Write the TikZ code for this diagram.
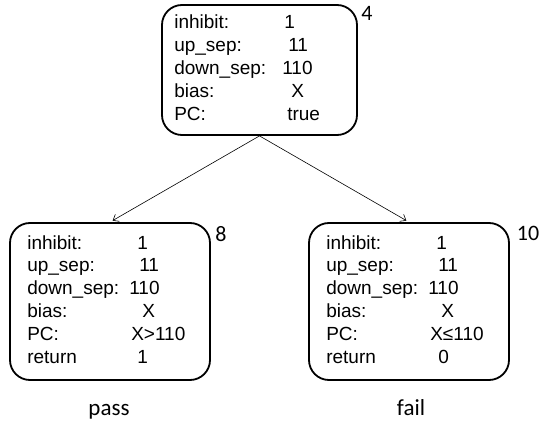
\documentclass[tikz,border=0pt]{standalone}
\usepackage{fontspec}
\usepackage{array}
\setmainfont{Liberation Sans}
\newfontfamily\calib{Carlito}
\usetikzlibrary{positioning, arrows.meta}

\tikzset{
	nodebox/.style = {draw = black, line width = 1.8pt, rounded corners = 20pt, inner sep = 0pt},
	vartab/.style = {inner sep = 0pt, anchor = west, font = \fontsize{19}{22.8}\selectfont},
	numlabel/.style = {inner sep = 0pt, font = \calib\fontsize{22}{24}\selectfont},
	result/.style = {inner sep = 0pt, anchor = base, font = \calib\fontsize{23}{26}\selectfont}
}

\begin{document}
\begin{tikzpicture}[x = 1pt, y = 1pt]
		\useasboundingbox (0, 0) rectangle (539, 426);
		% states
		\node[nodebox, minimum width = 195pt, minimum height = 130pt] (s4) at (259.5, 356) {};
		\node[nodebox, minimum width = 200pt, minimum height = 157pt] (s8) at (110, 124.5) {};
		\node[nodebox, minimum width = 200pt, minimum height = 157pt] (s10) at (409, 124.5) {};
		\node[vartab] (t4) at ([xshift = 13pt]s4.west) {%
			\begin{tabular}{@{}p{108pt}@{}l@{}}
			inhibit: & \hspace{2pt}1 \\
			up\_sep: & \hspace{6pt}11 \\
			down\_sep: & 110 \\
			bias: & \hspace{9pt}X \\
			PC: & \hspace{5pt}true
			\end{tabular}};
		\node[vartab] (t8) at ([xshift = 18pt]s8.west) {%
			\begin{tabular}{@{}p{102pt}@{}l@{}}
			inhibit: & \hspace{8pt}1 \\
			up\_sep: & \hspace{10pt}11 \\
			down\_sep: & 110 \\
			bias: & \hspace{13pt}X \\
			PC: & \hspace{2pt}X>110 \\
			return & \hspace{8pt}1
			\end{tabular}};
		\node[vartab] (t10) at ([xshift = 18pt]s10.west) {%
			\begin{tabular}{@{}p{102pt}@{}l@{}}
			inhibit: & \hspace{8pt}1 \\
			up\_sep: & \hspace{10pt}11 \\
			down\_sep: & 110 \\
			bias: & \hspace{13pt}X \\
			PC: & \hspace{2pt}X≤110 \\
			return & \hspace{10pt}0
			\end{tabular}};
		% numbers and outcomes
		\node[numlabel] (n4) at (367, 413) {4};
		\node[numlabel] (n8) at (221, 192) {8};
		\node[numlabel] (n10) at (528, 193) {10};
		\node[result] (pass) at (109, 10) {pass};
		\node[result] (fail) at (411, 10) {fail};
		% edges
		\draw[-{Straight Barb[length = 5pt, width = 8pt]}, line width = 0.6pt, shorten > = 3pt] (s4.south) -- (s8.north);
		\draw[-{Straight Barb[length = 5pt, width = 8pt]}, line width = 0.6pt, shorten > = 3pt] (s4.south) -- (s10.north);
		\end{tikzpicture}
\end{document}
